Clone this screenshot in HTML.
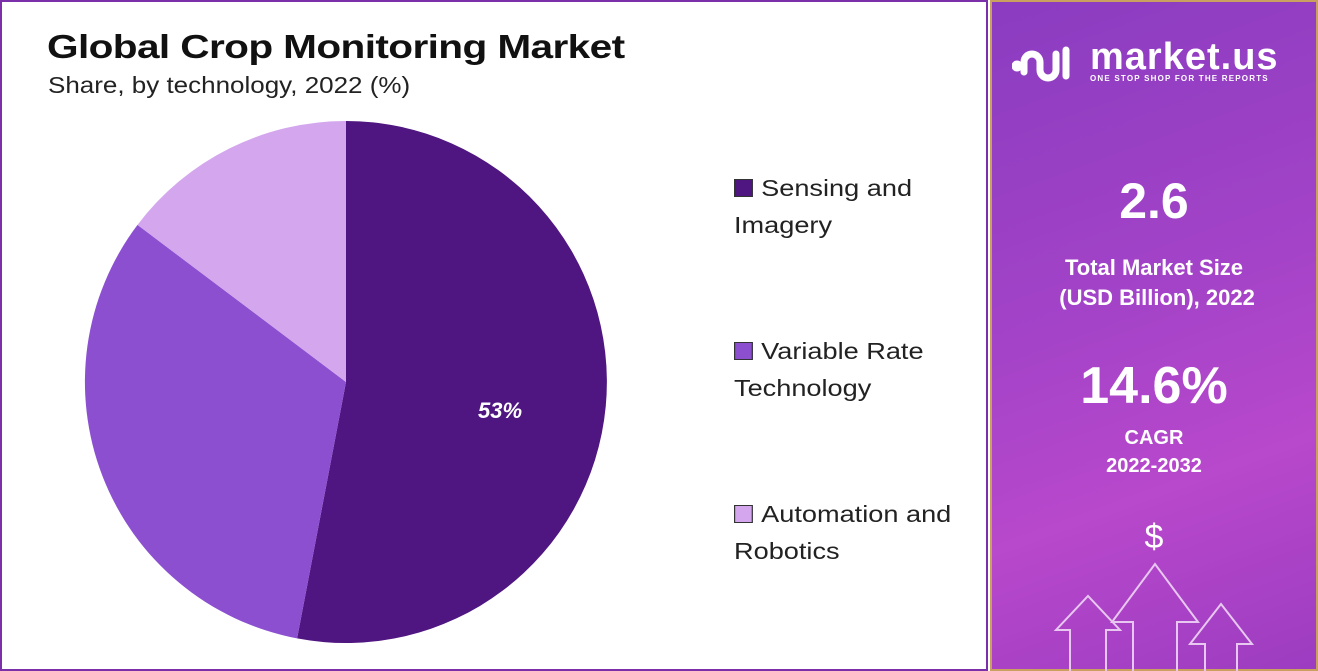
<!DOCTYPE html>
<html><head><meta charset="utf-8"><style>
body{margin:0;width:1318px;height:671px;overflow:hidden;background:#fff;font-family:"Liberation Sans",sans-serif;position:relative}
.left{position:absolute;left:0;top:0;width:984px;height:667px;border:2px solid #7b2fa8;background:#fff}
.right{position:absolute;left:990px;top:0;width:328px;height:671px;background:linear-gradient(160deg,#8a3cc0 0%,#a443c8 45%,#b848cc 70%,#9c3cc0 100%);box-shadow:inset 0 0 0 2px #c9a060;color:#fff;text-align:center}
.t{position:absolute;left:47px;top:28px;font-size:33px;font-weight:bold;color:#111;letter-spacing:-0.5px;transform:scaleX(1.23);transform-origin:left;white-space:nowrap}
.s{position:absolute;left:48px;top:72px;font-size:23px;color:#222;transform:scaleX(1.13);transform-origin:left;white-space:nowrap}
.lg{position:absolute;left:734px;font-size:23px;color:#222;line-height:37px;transform:scaleX(1.18);transform-origin:left;white-space:nowrap}
.lg i{display:inline-block;width:14px;height:16px;border:1px solid #333;margin-right:7px;vertical-align:-1px}
</style></head><body>
<div class="left"></div>
<div class="t">Global Crop Monitoring Market</div>
<div class="s">Share, by technology, 2022 (%)</div>
<svg style="position:absolute;left:0;top:0" width="990" height="671">
<path d="M346,382 L346,121 A261,261 0 1 1 297.1,638.4 Z" fill="#4f1580"/>
<path d="M346,382 L297.1,638.4 A261,261 0 0 1 137.5,224.9 Z" fill="#8b4fd0"/>
<path d="M346,382 L137.5,224.9 A261,261 0 0 1 346,121 Z" fill="#d3a6ee"/>
<text x="500" y="418" fill="#fff" font-size="22" font-weight="bold" font-style="italic" text-anchor="middle" font-family="Liberation Sans">53%</text>
</svg>
<div class="lg" style="top:170px"><i style="background:#4f1580"></i>Sensing and<br>Imagery</div>
<div class="lg" style="top:333px"><i style="background:#8b4fd0"></i>Variable Rate<br>Technology</div>
<div class="lg" style="top:496px"><i style="background:#d3a6ee"></i>Automation and<br>Robotics</div>
<div class="right">
<svg style="position:absolute;left:22px;top:42px" width="62" height="40" fill="none" stroke="#fff" stroke-width="7" stroke-linecap="round">
<circle cx="5" cy="24" r="2" fill="#fff"/><path d="M12,30 V20 a8,8 0 0 1 16,0 V28 a8,8 0 0 0 16,0 V12"/><path d="M54,34 V8"/>
</svg>
<div style="position:absolute;left:100px;top:36px;font-size:38px;font-weight:bold;letter-spacing:1px">market.us</div>
<div style="position:absolute;left:100px;top:74px;font-size:8px;font-weight:bold;letter-spacing:1.2px">ONE STOP SHOP FOR THE REPORTS</div>
<div style="position:absolute;left:0;width:328px;top:172px;font-size:50px;font-weight:bold">2.6</div>
<div style="position:absolute;left:0;width:328px;top:253px;font-size:22px;font-weight:bold;line-height:30px">Total Market Size<br>&nbsp;(USD Billion), 2022</div>
<div style="position:absolute;left:0;width:328px;top:356px;font-size:52px;font-weight:bold">14.6%</div>
<div style="position:absolute;left:0;width:328px;top:424px;font-size:20px;font-weight:bold;line-height:28px">CAGR<br>2022-2032</div>
<div style="position:absolute;left:0;width:328px;top:518px;font-size:34px">$</div>
<svg style="position:absolute;left:0;top:560px" width="328" height="111" fill="none" stroke="#e8c8f0" stroke-width="2">
<path d="M143,111 V62 H122 L165,4 L208,62 H187 V111"/>
<path d="M80,111 V70 H66 L98,36 L130,70 H116 V111"/>
<path d="M215,111 V84 H200 L231,44 L262,84 H247 V111"/>
</svg>
</div>
</body></html>
